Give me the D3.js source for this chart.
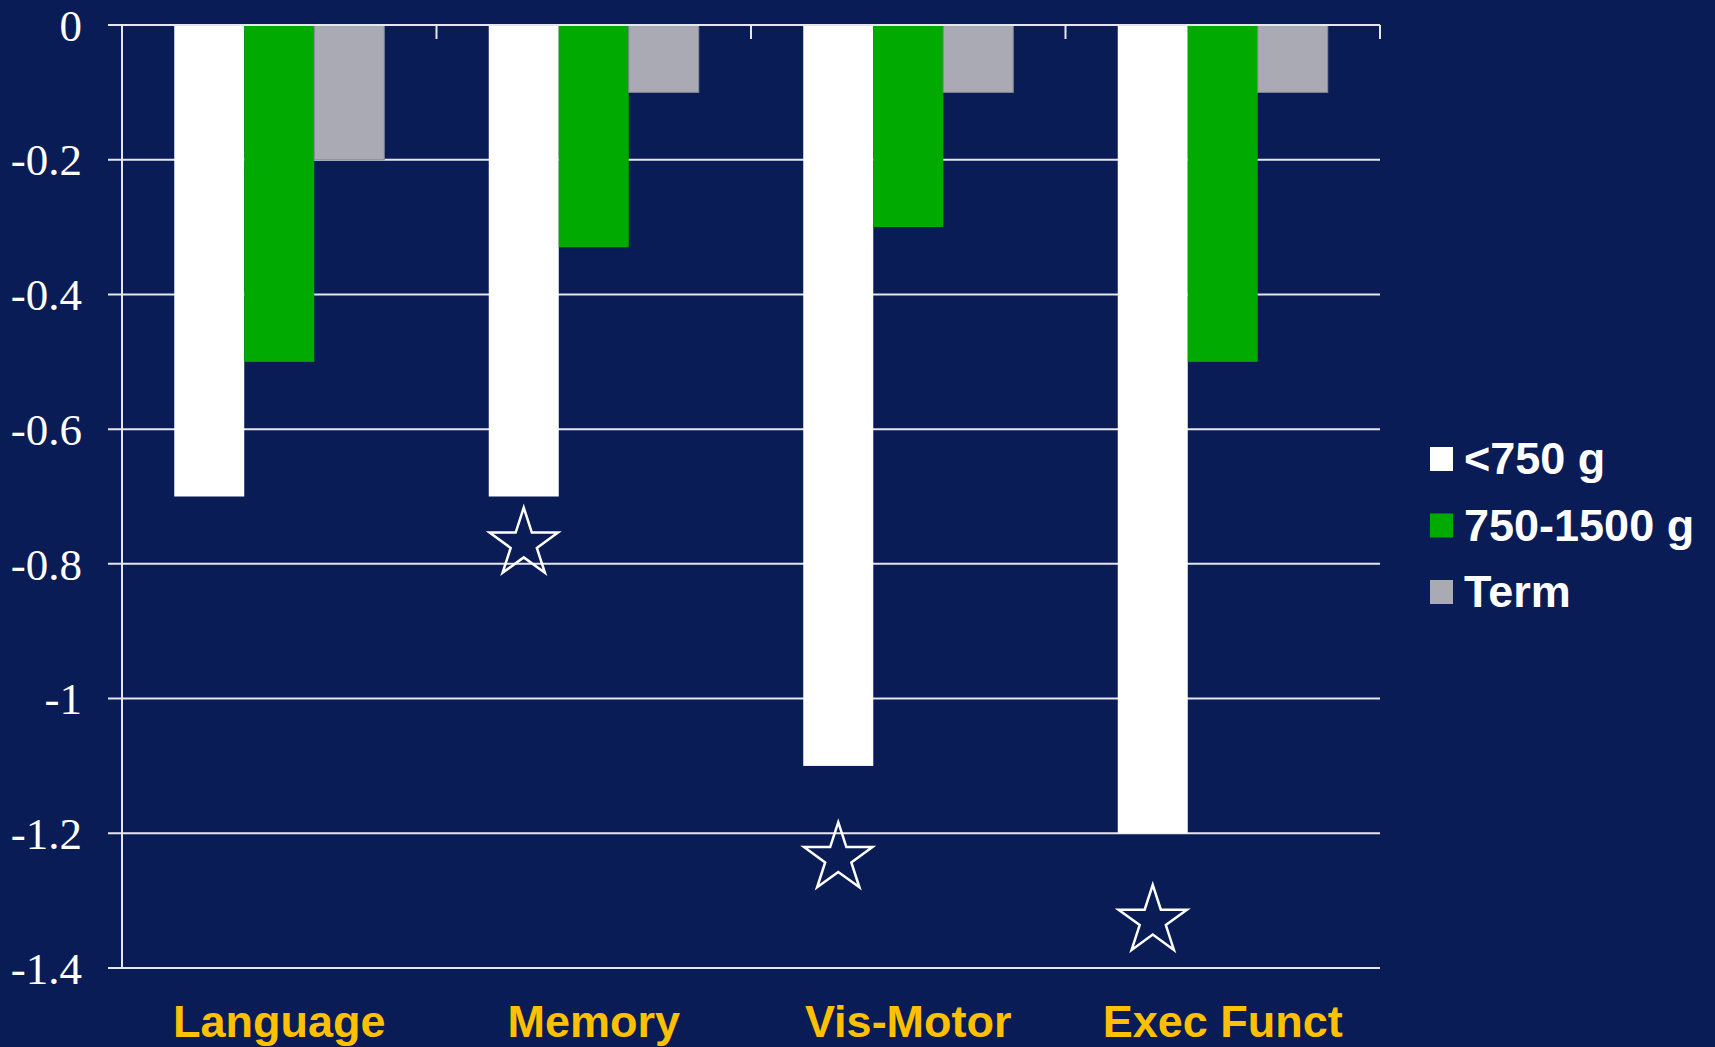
<!DOCTYPE html>
<html><head><meta charset="utf-8">
<script src="https://cdn.jsdelivr.net/npm/d3@7"></script>
<style>html,body{margin:0;padding:0;background:#0A1C56;overflow:hidden}</style>
</head><body>
<svg id="c" width="1715" height="1047"></svg>
<script>
const categories = ["Language", "Memory", "Vis-Motor", "Exec Funct"];
const seriesNames = ["<750 g", "750-1500 g", "Term"];
const seriesLt750 = [-0.7, -0.7, -1.1, -1.2];
const series750to1500 = [-0.5, -0.33, -0.3, -0.5];
const seriesTerm = [-0.2, -0.1, -0.1, -0.1];
const yTicks = [0, -0.2, -0.4, -0.6, -0.8, -1, -1.2, -1.4];
const starCategories = ["Memory", "Vis-Motor", "Exec Funct"];
const starValues = [-0.77, -1.237, -1.33];

const colors = ["#FFFFFF", "#00AA00", "#AAAAB4"];
const allSeries = [seriesLt750, series750to1500, seriesTerm];

const svg = d3.select("#c");
svg.append("rect").attr("width",1715).attr("height",1047).attr("fill","#0A1C56");

const mLeft = 122, mRight = 1380, mTop = 25, mBottom = 968;
const y = d3.scaleLinear().domain([0, -1.4]).range([mTop, mBottom]);
const pad = 0.3323;
const x0 = d3.scaleBand().domain(categories).range([mLeft, mRight]).paddingInner(pad).paddingOuter(pad/2);
const x1 = d3.scaleBand().domain(d3.range(seriesNames.length)).range([0, x0.bandwidth()]);

// gridlines
svg.append("g").selectAll("line").data(yTicks).join("line")
  .attr("x1", mLeft - 14).attr("x2", mRight)
  .attr("y1", d => y(d)).attr("y2", d => y(d))
  .attr("stroke", "#E6E6EE").attr("stroke-width", 2);

// y labels
svg.append("g").selectAll("text").data(yTicks).join("text")
  .attr("x", 82).attr("y", d => y(d)).attr("dy", "0.35em")
  .attr("text-anchor", "end")
  .attr("font-family", "'Liberation Serif', 'Times New Roman', serif")
  .attr("font-size", 45).attr("fill", "#FFFFFF")
  .text(d => String(d));

// bars
const rows = [];
categories.forEach((c, i) => allSeries.forEach((s, j) => rows.push({c, j, v: s[i]})));
svg.append("g").selectAll("rect").data(rows).join("rect")
  .attr("x", d => x0(d.c) + x1(d.j))
  .attr("width", x1.bandwidth())
  .attr("y", y(0))
  .attr("height", d => y(d.v) - y(0))
  .attr("fill", d => colors[d.j])
  .attr("stroke", d => d.j === 2 ? "#8A8A98" : "none")
  .attr("stroke-width", 1);

// y axis line
svg.append("line").attr("x1", mLeft).attr("x2", mLeft).attr("y1", mTop).attr("y2", mBottom)
  .attr("stroke", "#E6E6EE").attr("stroke-width", 2);
// top axis line + category ticks
svg.append("line").attr("x1", mLeft - 14).attr("x2", mRight).attr("y1", mTop).attr("y2", mTop)
  .attr("stroke", "#E6E6EE").attr("stroke-width", 2);
const step = x0.step();
const bounds = d3.range(categories.length + 1).map(i => mLeft + i * step);
svg.append("g").selectAll("line").data(bounds).join("line")
  .attr("x1", d => d).attr("x2", d => d).attr("y1", mTop).attr("y2", mTop + 14)
  .attr("stroke", "#E6E6EE").attr("stroke-width", 2);

// category labels
svg.append("g").selectAll("text").data(categories).join("text")
  .attr("x", d => x0(d) + x0.bandwidth()/2).attr("y", 1037)
  .attr("text-anchor", "middle")
  .attr("font-family", "'Liberation Sans', Arial, sans-serif")
  .attr("font-weight", "bold").attr("font-size", 45).attr("fill", "#FFC000")
  .text(d => d);

// stars
const star = d3.symbol().type(d3.symbolStar).size(36*36/0.8908130915292852);
svg.append("g").selectAll("path").data(starCategories).join("path")
  .attr("transform", (d, i) => `translate(${x0(d) + x1(0) + x1.bandwidth()/2},${y(starValues[i])})`)
  .attr("d", star)
  .attr("fill", "none").attr("stroke", "#FFFFFF").attr("stroke-width", 2.5);

// legend
const lg = svg.append("g");
seriesNames.forEach((n, i) => {
  const yy = 447 + i * 66.5;
  lg.append("rect").attr("x", 1430).attr("y", yy).attr("width", 23).attr("height", 24).attr("fill", colors[i]);
  lg.append("text").attr("x", 1464).attr("y", yy + 27)
    .attr("font-family", "'Liberation Sans', Arial, sans-serif")
    .attr("font-weight", "bold").attr("font-size", 45).attr("fill", "#FFFFFF")
    .text(n);
});
</script>
</body></html>
